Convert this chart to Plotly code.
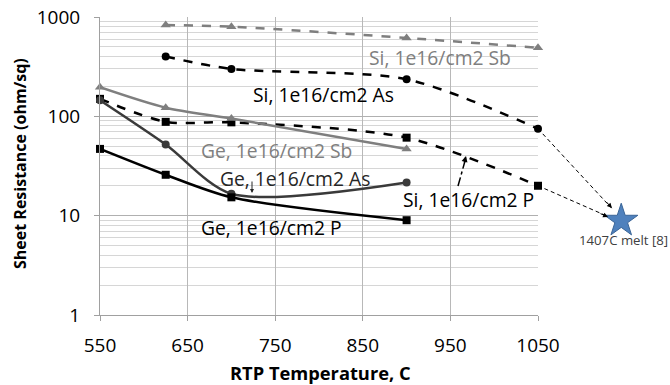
import plotly.graph_objects as go

temps_si = [625, 700, 900, 1050]
si_sb = [830, 800, 615, 490]
si_as = [400, 300, 236, 75]
temps_sip = [550, 625, 700, 900, 1050]
si_p = [150, 88, 87, 61, 20]
temps_ge = [550, 625, 700, 900]
ge_sb = [196, 122, 95, 47]
ge_as = [145, 52, 16.6, 21.6]
ge_p = [47, 25.8, 15.3, 9.0]
melt_x = [1145]
melt_y = [8.9]
arrow_end_x = [1134, 1130]
arrow_end_y = [11.9, 9.8]
x_ticks = [550, 650, 750, 850, 950, 1050]
y_ticks = [1, 10, 100, 1000]

FONT = "Open Sans"
L, R, T, B = 100, 0, 17, 70
W, H = 670, 385
PW, PH = W - L - R, H - T - B
X0, X1 = 550, 1050
PX_PER = 438 / (X1 - X0)


def px(x):
    return (x - L) / PW


def py(y):
    return 1 - (y - T) / PH


fig = go.Figure()


def add(x, y, color, dash, symbol, size):
    fig.add_trace(go.Scatter(
        x=x, y=y, mode="lines+markers",
        line=dict(color=color, width=2.5, dash=dash, shape="spline", smoothing=0.8),
        marker=dict(symbol=symbol, size=size, color=color),
        showlegend=False, cliponaxis=False))


add(temps_si, si_sb, "#7f7f7f", "dash", "triangle-up", 9)
add(temps_si, si_as, "#000000", "dash", "circle", 8)
add(temps_sip, si_p, "#000000", "dash", "square", 8)
add(temps_ge, ge_sb, "#7f7f7f", "solid", "triangle-up", 9)
add(temps_ge, ge_as, "#3a3a3a", "solid", "circle", 8)
add(temps_ge, ge_p, "#000000", "solid", "square", 8)

# dashed arrows to melt point (wide overlay axes)
for sx, sy, ex, ey in [(temps_si[-1], si_as[-1], arrow_end_x[0], arrow_end_y[0]),
                       (temps_sip[-1], si_p[-1], arrow_end_x[1], arrow_end_y[1])]:
    fig.add_trace(go.Scatter(
        x=[sx, ex], y=[sy, ey], xaxis="x2", yaxis="y2",
        mode="lines", line=dict(color="#000000", width=1, dash="4px,3px"),
        showlegend=False, cliponaxis=False, hoverinfo="skip"))

fig.add_trace(go.Scatter(
    x=melt_x, y=melt_y, xaxis="x2", yaxis="y2", mode="markers",
    marker=dict(symbol="star", size=25, color="#4f81bd", line=dict(color="#3a6597", width=1)),
    showlegend=False, cliponaxis=False))

labels = [
    ("Si, 1e16/cm2 Sb", 367, 57, "#7f7f7f"),
    ("Si, 1e16/cm2 As", 251, 95, "#000000"),
    ("Ge, 1e16/cm2 Sb", 199, 150, "#7f7f7f"),
    ("Ge, 1e16/cm2 As", 218, 178, "#262626"),
    ("Si, 1e16/cm2 P", 401, 200, "#000000"),
    ("Ge, 1e16/cm2 P", 199, 227, "#000000"),
]
for t, lx, ly, c in labels:
    fig.add_annotation(text=t, xref="paper", yref="paper",
                       x=px(lx), y=py(ly),
                       xanchor="left", yanchor="middle", showarrow=False,
                       font=dict(family=FONT, size=19.3, color=c))

fig.add_annotation(text="1407C melt [8]", xref="paper", yref="paper",
                   x=px(623), y=py(240),
                   xanchor="center", yanchor="middle", showarrow=False,
                   font=dict(family=FONT, size=13.2, color="#404040"))

# axis titles
fig.add_annotation(text="<b>RTP Temperature, C</b>", xref="paper", yref="paper",
                   x=px(320), y=py(372), xanchor="center", yanchor="middle",
                   showarrow=False, borderpad=0,
                   font=dict(family=FONT, size=18.3, color="#000000"))
fig.add_annotation(text="<b>Sheet Resistance (ohm/sq)</b>", xref="paper", yref="paper",
                   x=px(20), y=py(164), xanchor="center", yanchor="middle", textangle=-90,
                   showarrow=False, borderpad=0,
                   font=dict(family=FONT, size=16, color="#000000"))

# small arrow from Ge As label
fig.add_annotation(xref="paper", yref="paper",
                   x=px(252), y=py(193), ax=0, ay=-13,
                   text="", showarrow=True, arrowhead=2, arrowsize=0.8, arrowwidth=1,
                   arrowcolor="#262626")
# dashed leader from Si P label
fig.add_shape(type="line", xref="paper", yref="paper",
              x0=px(458), y0=py(186), x1=px(465), y1=py(161),
              line=dict(color="#000000", width=1.5, dash="dashdot"))
fig.add_annotation(xref="paper", yref="paper",
                   x=px(466), y=py(156), ax=-2, ay=8,
                   text="", showarrow=True, arrowhead=2, arrowsize=0.8, arrowwidth=1.5,
                   arrowcolor="#000000")
# arrowheads at star
for (dx, dy, tx, ty) in [(-7, -7.5, 612, 208), (-9, -4, 608, 217)]:
    fig.add_annotation(xref="paper", yref="paper",
                       x=px(tx), y=py(ty), ax=dx, ay=dy,
                       text="", showarrow=True, arrowhead=2, arrowsize=1, arrowwidth=1,
                       arrowcolor="#000000")

fig.update_layout(
    width=W, height=H,
    margin=dict(l=L, r=R, t=T, b=B),
    plot_bgcolor="rgba(0,0,0,0)", paper_bgcolor="white",
    font=dict(family=FONT, color="#000000"),
    xaxis=dict(domain=[0, 438 / PW], range=[X0, X1], tickvals=x_ticks,
               ticktext=[str(v) for v in x_ticks],
               showgrid=True, gridcolor="#b8b8b8", gridwidth=1,
               showline=True, linecolor="#a0a0a0", ticks="outside", ticklen=5,
               tickcolor="#a0a0a0", zeroline=False, automargin=False,
               ticklabelstandoff=8,
               tickfont=dict(size=19, family=FONT, color="#000000")),
    yaxis=dict(type="log", range=[0, 3], tickvals=y_ticks,
               ticktext=[str(v) for v in y_ticks],
               showgrid=True, gridcolor="#b0b0b0", gridwidth=1,
               showline=True, linecolor="#a0a0a0", ticks="outside", ticklen=5,
               tickcolor="#a0a0a0", zeroline=False, automargin=False,
               ticklabelstandoff=10,
               minor=dict(dtick="D1", showgrid=True, gridcolor="#d6d6d6", ticks=""),
               tickfont=dict(size=19, family=FONT, color="#000000")),
    xaxis2=dict(domain=[0, 1], range=[X0, X0 + PW / PX_PER], visible=False,
                anchor="y2", showgrid=False, zeroline=False),
    yaxis2=dict(type="log", range=[0, 3], visible=False, anchor="x2",
                showgrid=False, zeroline=False, domain=[0, 1]),
)

fig.write_html("out.html", config={"displayModeBar": False},
               post_script="document.body.style.margin='0';")
